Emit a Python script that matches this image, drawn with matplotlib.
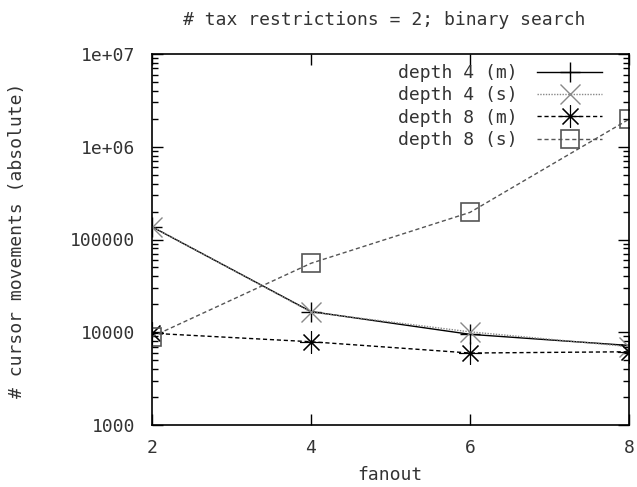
import matplotlib
matplotlib.use("Agg")
import matplotlib.pyplot as plt
from matplotlib.ticker import FixedLocator, LogLocator, NullFormatter, FixedFormatter

fanout = [2, 4, 6, 8]
depth4_m = [137000, 16700, 9500, 7200]
depth4_s = [138000, 16500, 10100, 7000]
depth8_m = [9750, 7900, 5970, 6160]
depth8_s = [8960, 55400, 196000, 1980000]

labels = ["depth 4 (m)", "depth 4 (s)", "depth 8 (m)", "depth 8 (s)"]
title = "# tax restrictions = 2; binary search"
xlabel = "fanout"
ylabel = "# cursor movements (absolute)"
yticks = [1000, 10000, 100000, 1e6, 1e7]
yticklabels = ["1000", "10000", "100000", "1e+06", "1e+07"]

FONT = "DejaVu Sans Mono"
FS = 13
TC = "#333333"
plt.rcParams["font.family"] = FONT

W, H = 637, 487
fig = plt.figure(figsize=(W/100, H/100), dpi=100)
ax = fig.add_axes([152/W, 1-425/H, (629-152)/W, (425-54)/H])

ax.plot(fanout, depth4_m, color="black", lw=1.0, ls="-", marker="+", ms=15, mew=1.0, label=labels[0])
ax.plot(fanout, depth4_s, color="#888888", lw=1.0, ls=(0, (1, 1)), marker="x", ms=14, mew=1.0, label=labels[1])
ax.plot(fanout, depth8_m, color="black", lw=1.0, ls=(0, (3, 2)), marker=(8, 2, 0), ms=16, mew=0.8, label=labels[2])
ax.plot(fanout, depth8_s, color="#555555", lw=1.0, ls=(0, (3, 2)), marker="s", ms=13, mew=1.2, mfc="none", label=labels[3])

ax.set_yscale("log")
ax.set_xlim(2, 8)
ax.set_ylim(1000, 1e7)
ax.xaxis.set_major_locator(FixedLocator(fanout))
ax.yaxis.set_major_locator(FixedLocator(yticks))
ax.yaxis.set_major_formatter(FixedFormatter(yticklabels))
ax.yaxis.set_minor_locator(LogLocator(base=10, subs=range(2, 10)))
ax.yaxis.set_minor_formatter(NullFormatter())

ax.tick_params(which="both", direction="in", top=True, right=True, colors="black", labelcolor=TC, labelsize=FS)
ax.tick_params(which="major", length=8, width=1.0)
ax.tick_params(axis="x", which="major", pad=10)
ax.tick_params(axis="y", which="major", pad=12)
ax.tick_params(which="minor", length=4, width=1.0)
for s in ax.spines.values():
    s.set_linewidth(1.2)
    s.set_color("black")

fig.text(390/W, 1-475/H, xlabel, ha="center", va="center", fontsize=FS, color=TC)
fig.text(17/W, 1-240/H, ylabel, ha="center", va="center", rotation=90, fontsize=FS, color=TC)
fig.text(384/W, 1-20/H, title, ha="center", va="center", fontsize=FS, color=TC)

leg = ax.legend(loc="upper right", bbox_to_anchor=(602/W, 1-64/H), bbox_transform=fig.transFigure,
                frameon=False, markerfirst=False, numpoints=1, handlelength=3.6, fontsize=FS,
                labelspacing=0.24, handletextpad=1.1, borderaxespad=0.0, borderpad=0.0)
for t in leg.get_texts():
    t.set_color(TC)

fig.savefig("out.png", dpi=100)
